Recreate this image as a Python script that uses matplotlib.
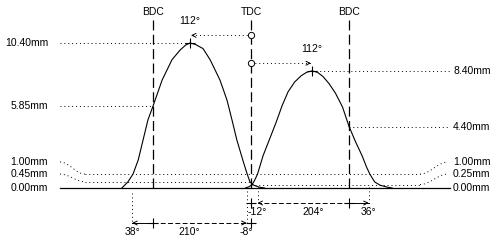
import numpy as np
import matplotlib
matplotlib.use("Agg")
import matplotlib.pyplot as plt

# cam lift curves, crank degrees from TDC / lift in mm
exh_deg = [-237, -226, -216.5, -207, -198, -189, -180, -163, -145, -130, -120,
           -112, -102, -88, -75, -57, -44, -35, -26, -15, -7, -2, 5, 15, 25]
exh_lift = [0, 0.43, 1.0, 2.0, 3.45, 4.9, 5.85, 7.75, 9.2, 9.9, 10.25,
            10.4, 10.3, 10.0, 9.2, 7.75, 6.3, 4.9, 3.45, 2.0, 1.0, 0.45, 0.2, 0.06, 0]
int_deg = [-10, -3, 2, 6, 12, 22, 34, 46, 57, 68, 80, 92, 102, 112, 122, 132,
           143, 155, 168, 180, 192, 204, 212, 218, 227, 237, 250, 259]
int_lift = [0, 0.1, 0.25, 0.5, 1.0, 2.3, 3.5, 4.7, 5.9, 6.9, 7.6, 8.05, 8.3, 8.4,
            8.3, 8.0, 7.5, 6.8, 5.8, 4.4, 3.3, 2.3, 1.5, 1.0, 0.43, 0.2, 0.06, 0]

exh_peak = (-112, 10.40)
int_peak = (112, 8.40)
exh_bdc_lift = 5.85
int_bdc_lift = 4.40
exh_ramp = [1.00, 0.45]
int_ramp = [1.00, 0.25]

exh_open, exh_close = 38, -8
int_open, int_close = -12, 36

# pixel geometry of the picture
PX_DEG = 0.545
PX_MM = 13.94
X0, Y0 = 251, 188
W, H = 500, 240

fig = plt.figure(figsize=(5, 2.4), dpi=100)
ax = fig.add_axes([0, 0, 1, 1])
ax.set_xlim(-X0 / PX_DEG, (W - X0) / PX_DEG)
ax.set_ylim(-(H - Y0) / PX_MM, Y0 / PX_MM)
ax.axis("off")

def px(x):
    return (x - X0) / PX_DEG

def py(y):
    return (Y0 - y) / PX_MM

plt.rcParams["font.family"] = ["Liberation Sans", "DejaVu Sans"]
fs = 7.5
dot = (0, (1, 3))
k = "black"

def arrow(x0, x1, y, ls):
    ax.plot([x0, x1], [y, y], color=k, lw=0.7, ls=ls)
    d = 4 if x1 > x0 else -4
    ax.annotate("", xy=(x1, y), xytext=(x1 - d, y),
                arrowprops=dict(arrowstyle="->", lw=0.7, color=k,
                                shrinkA=0, shrinkB=0, mutation_scale=7))

def leader(xa, ya, xb, yb):
    t = np.linspace(0, 1, 20)
    xs = xa + (xb - xa) * t
    ys = ya + (yb - ya) * (1 - np.cos(np.pi * t)) / 2
    ax.plot(xs, ys, color=k, lw=0.7, ls=dot)

left_end, right_end = px(60), px(450)
lab_l, lab_r = px(48), px(453)

# baseline
ax.plot([left_end, right_end], [0, 0], color=k, lw=0.9)
ax.text(lab_l, 0, "0.00mm", ha="right", va="center", fontsize=fs)
ax.text(lab_r, 0, "0.00mm", ha="left", va="center", fontsize=fs)

# BDC / TDC
for x, s in [(-180, "BDC"), (0, "TDC"), (180, "BDC")]:
    ax.plot([x, x], [0, py(20)], color=k, lw=0.9, ls=(0, (8, 3.5)))
    ax.text(x, py(12), s, ha="center", va="center", fontsize=fs)

# ramp lines
lab_lo, lab_hi = 1.0, py(162)
ax.plot([px(85), px(420)], [exh_ramp[0]] * 2, color=k, lw=0.7, ls=dot)
ax.plot([px(85), 0], [exh_ramp[1]] * 2, color=k, lw=0.7, ls=dot)
ax.plot([0, px(420)], [int_ramp[1]] * 2, color=k, lw=0.7, ls=dot)
leader(left_end, lab_hi, px(85), exh_ramp[0])
leader(left_end, lab_lo, px(85), exh_ramp[1])
leader(px(420), int_ramp[0], px(448), lab_hi)
leader(px(420), int_ramp[1], px(448), lab_lo)
ax.text(lab_l, lab_hi, f"{exh_ramp[0]:.2f}mm", ha="right", va="center", fontsize=fs)
ax.text(lab_l, lab_lo, f"{exh_ramp[1]:.2f}mm", ha="right", va="center", fontsize=fs)
ax.text(lab_r, lab_hi, f"{int_ramp[0]:.2f}mm", ha="left", va="center", fontsize=fs)
ax.text(lab_r, lab_lo, f"{int_ramp[1]:.2f}mm", ha="left", va="center", fontsize=fs)

# lift curves
ax.plot(exh_deg, exh_lift, color=k, lw=0.8)
ax.plot(int_deg, int_lift, color=k, lw=0.8)

# max lift and lift at BDC
ax.plot([left_end, exh_peak[0]], [exh_peak[1]] * 2, color=k, lw=0.7, ls=dot)
ax.text(lab_l, exh_peak[1], f"{exh_peak[1]:.2f}mm", ha="right", va="center", fontsize=fs)
ax.plot([left_end, -180], [exh_bdc_lift] * 2, color=k, lw=0.7, ls=dot)
ax.text(lab_l, exh_bdc_lift, f"{exh_bdc_lift:.2f}mm", ha="right", va="center", fontsize=fs)
ax.plot([int_peak[0], right_end], [int_peak[1]] * 2, color=k, lw=0.7, ls=dot)
ax.text(lab_r, int_peak[1], f"{int_peak[1]:.2f}mm", ha="left", va="center", fontsize=fs)
ax.plot([180, right_end], [int_bdc_lift] * 2, color=k, lw=0.7, ls=dot)
ax.text(lab_r, int_bdc_lift, f"{int_bdc_lift:.2f}mm", ha="left", va="center", fontsize=fs)

# peak centre lines
for (pd_, pl), sgn in [(exh_peak, 1), (int_peak, -1)]:
    ax.plot(pd_, pl, marker="+", ms=7, mew=0.8, color=k)
    ya = pl + 0.55
    arrow(0, pd_ + sgn * 2, ya, dot)
    ax.plot(0, ya, marker="o", ms=4.5, mfc="white", mec=k, mew=0.7)
    ax.text(pd_, pl + 1.6, f"{abs(pd_)}°", ha="center", va="center", fontsize=fs)

# exhaust timing
xo, xc = -180 - exh_open, exh_close
ya, yl = py(223), py(232)
ax.plot([xo, xo], [py(193), ya], color=k, lw=0.7, ls=dot)
ax.plot([xc, xc], [py(191), ya], color=k, lw=0.7, ls=dot)
arrow(-180, xo, ya, "-")
arrow(-180, xc, ya, (0, (5, 2.5)))
ax.plot([-180, 0], [ya, ya], ls="none", marker="+", ms=7, mew=0.8, color=k)
ax.text(xo, yl, f"{exh_open}°", ha="center", va="center", fontsize=fs)
ax.text((xo + xc) / 2, yl, f"{180 + exh_open + exh_close}°", ha="center", va="center", fontsize=fs)
ax.text(xc, yl, f"{exh_close}°", ha="center", va="center", fontsize=fs)

# intake timing
xo, xc = -int_open, 180 + int_close
ya, yl = py(203), py(212)
ax.plot([xo, xo], [py(187), ya], color=k, lw=0.7, ls=dot)
ax.plot([xc, xc], [py(187), ya], color=k, lw=0.7, ls=dot)
arrow(180, xo, ya, (0, (5, 2.5)))
arrow(180, xc, ya, "-")
ax.plot([0, 180], [ya, ya], ls="none", marker="+", ms=7, mew=0.8, color=k)
ax.text(xo, yl, f"{int_open}°", ha="center", va="center", fontsize=fs)
ax.text((xo + xc) / 2, yl, f"{180 + int_open + int_close}°", ha="center", va="center", fontsize=fs)
ax.text(xc, yl, f"{int_close}°", ha="center", va="center", fontsize=fs)

fig.savefig("out.png", dpi=100)
